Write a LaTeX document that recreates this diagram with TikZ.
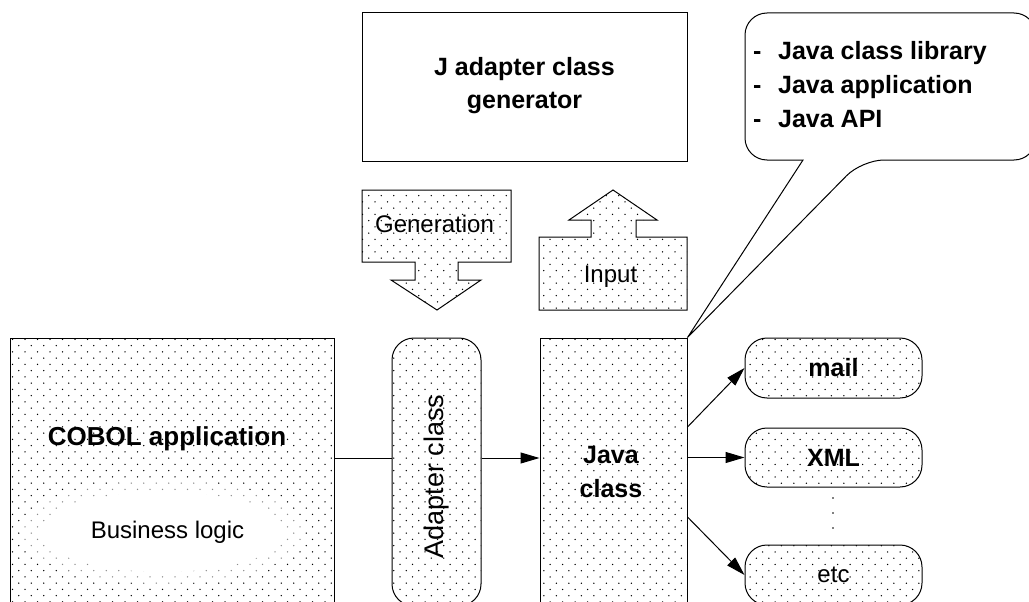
\documentclass[tikz,border=0pt]{standalone}
\usepackage{fontspec}
\setmainfont{Liberation Sans}
\usetikzlibrary{arrows.meta,patterns}
\pgfdeclarepatternformonly{sdots}{\pgfqpoint{-1pt}{-1pt}}{\pgfqpoint{7.5pt}{7.5pt}}{\pgfqpoint{12.5pt}{12.5pt}}{%
  \pgfpathcircle{\pgfqpoint{0pt}{0pt}}{0.75pt}%
  \pgfpathcircle{\pgfqpoint{6.25pt}{6.25pt}}{0.75pt}%
  \pgfusepath{fill}}
\tikzset{
  lw/.style={line width=1pt},
  dotted fill/.style={lw, draw=black, pattern=sdots, pattern color=black},
  plainbox/.style={lw, draw=black, fill=white, rectangle, inner sep=0pt},
  dotbox/.style={dotted fill, rectangle, inner sep=0pt},
  pill/.style={dotted fill, rectangle, rounded corners=22pt, inner sep=0pt},
  boldtxt/.style={font=\fontsize{25}{34}\selectfont\bfseries, inner sep=0pt},
  regtxt/.style={font=\fontsize{24}{30}\selectfont, inner sep=0pt},
  arr/.style={lw, -{Triangle[length=19pt,width=11pt]}},
}
\begin{document}
\begin{tikzpicture}[x=1pt,y=-1pt]
\useasboundingbox (0,0) rectangle (1029,602);
\clip (0,0) rectangle (1029,602);
\fill[white] (0,0) rectangle (1029,602);

% J adapter class generator
\node[plainbox, minimum width=325pt, minimum height=148pt] (jgen) at (524.5,87) {};
\node[font=\fontsize{25}{33}\selectfont\bfseries, inner sep=0pt, anchor=base, align=center] (jgentxt) at (524.5,109) {J adapter class\\generator};

% callout
\coordinate (cl1) at (803,160);
\coordinate (cl2) at (862,160);

% COBOL box
\node[dotbox, minimum width=324pt, minimum height=300pt] (cobol) at (172,488) {};
\fill[white, opacity=0.55] (163,532) ellipse [x radius=142, y radius=52];
\fill[white] (163,532) ellipse [x radius=122, y radius=40];
\node[font=\fontsize{26}{30}\selectfont\bfseries, inner sep=0pt, anchor=base] (cobtxt) at (167,445) {COBOL application};
\node[regtxt, anchor=base] (biz) at (167.5,538) {Business logic};

% Adapter class
\node[pill, minimum width=89pt, minimum height=268pt] (adapter) at (436.5,472) {};
\node[font=\fontsize{27}{30}\selectfont, inner sep=0pt, rotate=90, anchor=base] (adtxt) at (443,476.5) {Adapter class};

% Java class
\node[dotbox, minimum width=147pt, minimum height=300pt] (java) at (613.5,488) {};
\node[boldtxt, anchor=base, align=center] (javatxt) at (611,497) {Java\\class};

% callout drawn
\draw[lw, fill=white] (java.north east) -- (cl1) [rounded corners=22pt] -- (745,160) -- (745,13) -- (1036,13) -- (1036,160) -- (cl2) [sharp corners] -- cycle;
\node[font=\fontsize{25}{34.5}\selectfont\bfseries, inner sep=0pt, anchor=base west, align=left] (clist) at (753,128)
  {\makebox[25pt][l]{-}Java class library\\\makebox[25pt][l]{-}Java application\\\makebox[25pt][l]{-}Java API};

% Generation arrow
\draw[dotted fill] (362,190) -- (511,190) -- (511,262) -- (458,262) -- (458,280) -- (481,280) -- (437,310) -- (391,280) -- (415,280) -- (415,262) -- (362,262) -- cycle;
\node[regtxt, anchor=base] (gentxt) at (434.5,232) {Generation};

% Input arrow
\draw[dotted fill] (539,237) -- (539,310) -- (687,310) -- (687,237) -- (636,237) -- (636,220) -- (657,220) -- (613,190) -- (569,220) -- (591,220) -- (591,237) -- cycle;
\node[regtxt, anchor=base] (intxt) at (610.5,282) {Input};

% outputs
\node[pill, minimum width=177pt, minimum height=60pt, font=\fontsize{25}{30}\selectfont\bfseries] (mail) at (833.5,368) {mail};
\node[pill, minimum width=177pt, minimum height=59pt, font=\fontsize{25}{30}\selectfont\bfseries] (xml) at (833.5,457.5) {XML};
\node[pill, minimum width=177pt, minimum height=60pt, font=\fontsize{24}{30}\selectfont] (etc) at (833.5,575) {etc};
\fill (833,498) circle (0.9) (833,513) circle (0.9) (833,528) circle (0.9);

% connectors
\coordinate (ml) at (0,458);
\draw[lw] (cobol.east |- ml) -- (adapter.west |- ml);
\draw[arr] (adapter.east |- ml) -- (java.west |- ml);
\coordinate (m1) at (0,427);
\coordinate (m3) at (0,517);
\draw[arr] (java.east |- m1) -- (mail.west);
\draw[arr] (java.east |- xml.west) -- (xml.west);
\draw[arr] (java.east |- m3) -- (etc.west);
\end{tikzpicture}
\end{document}
